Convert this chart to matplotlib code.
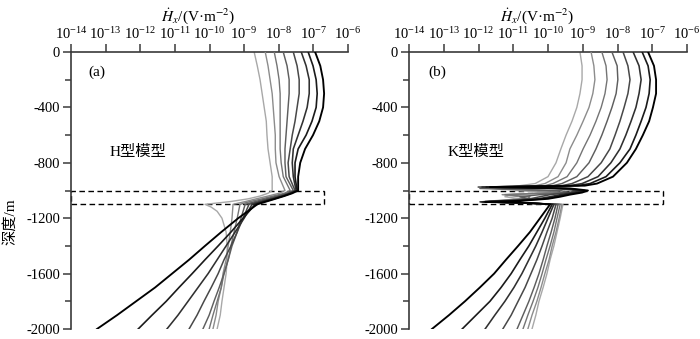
import numpy as np
import matplotlib
matplotlib.use("Agg")
import matplotlib.pyplot as plt
from matplotlib.patches import Rectangle
from matplotlib.ticker import FixedLocator, NullLocator, LogFormatterMathtext, FuncFormatter

plt.rcParams['font.family'] = ['Liberation Serif', 'Noto Sans CJK SC']
plt.rcParams['mathtext.fontset'] = 'stix'

# ---------------- data (log10 of dHx/dt, V/m^2) ----------------
# H-type model (panel a)
h_upper_depth = [0, -100, -200, -300, -400, -500, -600, -700, -800, -900, -1000]
h_layer_depth = [-1020, -1040, -1060, -1080]
h_lower_depth = [-1100, -1200, -1300, -1400, -1500, -1600, -1700, -1800, -1900, -2000]
h_c1_lower_depth = [-1100, -1120, -1150, -1200, -1300, -1400, -1500, -1600, -1700, -1800, -1900, -2000]

h_upper = [
    [-8.71, -8.62, -8.54, -8.48, -8.42, -8.36, -8.34, -8.31, -8.25, -8.19, -8.19],
    [-8.39, -8.31, -8.25, -8.19, -8.16, -8.13, -8.10, -8.10, -8.08, -7.99, -7.82],
    [-8.13, -8.05, -7.99, -7.96, -7.96, -7.96, -7.96, -7.96, -7.93, -7.87, -7.67],
    [-7.87, -7.76, -7.70, -7.70, -7.73, -7.76, -7.79, -7.82, -7.82, -7.79, -7.58],
    [-7.58, -7.47, -7.41, -7.41, -7.47, -7.53, -7.61, -7.67, -7.73, -7.70, -7.53],
    [-7.35, -7.21, -7.12, -7.12, -7.18, -7.30, -7.44, -7.58, -7.61, -7.58, -7.50],
    [-7.15, -7.01, -6.92, -6.89, -6.92, -7.04, -7.21, -7.44, -7.53, -7.53, -7.47],
    [-6.95, -6.80, -6.72, -6.69, -6.72, -6.83, -7.01, -7.24, -7.38, -7.44, -7.44],
]
h_layer = [
    [-8.31, -8.54, -8.88, -9.40],
    [-7.99, -8.31, -8.65, -8.97],
    [-7.84, -8.16, -8.48, -8.83],
    [-7.76, -8.05, -8.36, -8.68],
    [-7.70, -7.96, -8.25, -8.57],
    [-7.67, -7.90, -8.19, -8.48],
    [-7.64, -7.87, -8.13, -8.42],
    [-7.61, -7.84, -8.10, -8.36],
]
h_lower = [
    [-10.13, -9.95, -9.78, -9.64, -9.52, -9.49, -9.49, -9.52, -9.58, -9.64, -9.69, -9.78],
    [-9.32, -9.35, -9.40, -9.46, -9.52, -9.61, -9.66, -9.75, -9.81, -9.90],
    [-9.12, -9.20, -9.29, -9.38, -9.46, -9.58, -9.66, -9.78, -9.90, -10.01],
    [-8.97, -9.09, -9.20, -9.35, -9.46, -9.58, -9.72, -9.87, -10.01, -10.19],
    [-8.86, -9.03, -9.20, -9.38, -9.58, -9.75, -9.95, -10.16, -10.36, -10.59],
    [-8.77, -9.00, -9.26, -9.52, -9.78, -10.04, -10.33, -10.62, -10.91, -11.23],
    [-8.68, -9.03, -9.38, -9.75, -10.13, -10.50, -10.88, -11.25, -11.66, -12.06],
    [-8.62, -9.17, -9.66, -10.13, -10.59, -11.08, -11.57, -12.12, -12.67, -13.25],
]

# K-type model (panel b)
k_upper_depth = [0, -100, -200, -300, -400, -500, -600, -700, -800, -900, -950]
k_layer_depth = [-965, -975, -985, -1000, -1015, -1030, -1045, -1060, -1075, -1082, -1090]
k_lower_depth = [-1100, -1200, -1300, -1400, -1500, -1600, -1700, -1800, -1900, -2000]

k_upper = [
    [-9.08, -9.02, -9.02, -9.08, -9.17, -9.31, -9.48, -9.63, -9.77, -10.00, -10.37],
    [-8.76, -8.68, -8.65, -8.71, -8.82, -8.99, -9.17, -9.37, -9.48, -9.71, -10.09],
    [-8.45, -8.33, -8.30, -8.36, -8.47, -8.62, -8.79, -8.99, -9.17, -9.45, -9.86],
    [-8.16, -8.01, -7.99, -8.04, -8.16, -8.30, -8.45, -8.62, -8.82, -9.17, -9.60],
    [-7.84, -7.70, -7.64, -7.70, -7.81, -7.93, -8.07, -8.22, -8.47, -8.85, -9.31],
    [-7.55, -7.38, -7.32, -7.38, -7.47, -7.61, -7.76, -7.93, -8.19, -8.56, -9.02],
    [-7.29, -7.12, -7.06, -7.09, -7.18, -7.32, -7.47, -7.64, -7.93, -8.33, -8.79],
    [-7.12, -6.95, -6.89, -6.89, -6.98, -7.09, -7.27, -7.47, -7.73, -8.13, -8.59],
]
k_layer = [
    [-10.81, -11.09, -11.53, -10.95, -9.94, -11.09, -11.24, -10.81, -11.61, -11.73, -10.92],
    [-10.37, -10.81, -11.38, -10.52, -9.65, -11.32, -10.81, -10.66, -11.53, -11.78, -10.86],
    [-10.09, -10.66, -11.67, -10.09, -9.51, -11.24, -10.52, -10.58, -11.44, -11.84, -10.81],
    [-9.86, -10.81, -11.96, -9.65, -9.37, -10.23, -10.81, -10.52, -11.38, -11.90, -10.75],
    [-9.60, -12.01, -9.80, -9.14, -9.42, -9.94, -10.23, -10.52, -11.24, -11.96, -10.69],
    [-9.37, -11.90, -9.65, -9.02, -9.28, -9.65, -9.94, -10.29, -11.09, -11.93, -10.63],
    [-9.14, -11.78, -9.51, -8.94, -9.14, -9.51, -9.80, -10.14, -10.95, -11.87, -10.58],
    [-8.94, -11.67, -9.37, -8.85, -9.02, -9.37, -9.65, -10.00, -10.81, -11.81, -10.52],
]
k_lower = [
    [-9.57, -9.65, -9.74, -9.83, -9.94, -10.03, -10.14, -10.26, -10.35, -10.46],
    [-9.60, -9.68, -9.77, -9.88, -9.97, -10.09, -10.20, -10.32, -10.46, -10.58],
    [-9.65, -9.74, -9.83, -9.94, -10.06, -10.17, -10.29, -10.43, -10.58, -10.72],
    [-9.71, -9.80, -9.91, -10.03, -10.14, -10.26, -10.40, -10.55, -10.72, -10.89],
    [-9.77, -9.88, -10.03, -10.17, -10.32, -10.49, -10.66, -10.86, -11.06, -11.30],
    [-9.83, -10.00, -10.17, -10.35, -10.55, -10.75, -10.98, -11.24, -11.53, -11.81],
    [-9.88, -10.09, -10.32, -10.55, -10.81, -11.06, -11.35, -11.67, -12.07, -12.47],
    [-9.94, -10.23, -10.52, -10.86, -11.21, -11.55, -11.96, -12.39, -12.85, -13.34],
]

x_ticks = [1e-14, 1e-13, 1e-12, 1e-11, 1e-10, 1e-9, 1e-8, 1e-7, 1e-6]
y_major = [0, -400, -800, -1200, -1600, -2000]
y_minor = [-200, -600, -1000, -1400, -1800]
layer_top, layer_bottom = -1000, -1100
box_right = 2e-7

colors = ['#a8a8a8', '#8c8c8c', '#747474', '#5e5e5e', '#484848', '#303030', '#1a1a1a', '#000000']
widths = [1.0, 1.0, 1.0, 1.05, 1.1, 1.15, 1.2, 1.35]

fig = plt.figure(figsize=(7.0, 3.39), dpi=100)
ax1 = fig.add_axes([71/700, 10/339, 277/700, 277/339])
ax2 = fig.add_axes([409/700, 10/339, 278/700, 277/339])

axis_col = '#3a3a3a'


def style(ax):
    ax.set_xscale('log')
    ax.set_xlim(1e-14, 1e-6)
    ax.set_ylim(-2000, 0)
    ax.xaxis.tick_top()
    ax.xaxis.set_major_locator(FixedLocator(x_ticks))
    ax.xaxis.set_major_formatter(LogFormatterMathtext())
    ax.xaxis.set_minor_locator(NullLocator())
    ax.yaxis.set_major_locator(FixedLocator(y_major))
    ax.yaxis.set_minor_locator(FixedLocator(y_minor))
    ax.yaxis.set_major_formatter(FuncFormatter(lambda v, p: f"{int(v)}"))
    for s in ['bottom', 'right']:
        ax.spines[s].set_visible(False)
    for s in ['top', 'left']:
        ax.spines[s].set_color(axis_col)
        ax.spines[s].set_linewidth(1.2)
    ax.tick_params(axis='x', which='major', direction='out', length=6, width=1.1,
                   color=axis_col, labelsize=10.5, pad=1)
    ax.tick_params(axis='y', which='major', direction='out', length=6, width=1.1,
                   color=axis_col, labelsize=10.5, pad=2)
    ax.tick_params(axis='y', which='minor', direction='out', length=4, width=1.1,
                   color=axis_col)
    ax.add_patch(Rectangle((1e-14, layer_bottom), box_right - 1e-14, layer_top - layer_bottom,
                           fill=False, ls=(0, (4, 2.5)), lw=1.0, ec='black', clip_on=False, zorder=1))


def draw_h(ax):
    for i in range(8):
        if i == 0:
            d = h_upper_depth + h_layer_depth + h_c1_lower_depth
        else:
            d = h_upper_depth + h_layer_depth + h_lower_depth
        v = h_upper[i] + h_layer[i] + h_lower[i]
        ax.plot(10.0 ** np.array(v), d, color=colors[i], lw=widths[i], zorder=2 + i)


def draw_k(ax):
    for i in range(8):
        d = k_upper_depth + k_layer_depth + k_lower_depth
        v = k_upper[i] + k_layer[i] + k_lower[i]
        ax.plot(10.0 ** np.array(v), d, color=colors[i], lw=widths[i], zorder=2 + i)


style(ax1)
style(ax2)
draw_h(ax1)
draw_k(ax2)

ax1.text(0.061, 0.928, '(a)', transform=ax1.transAxes, fontsize=11, va='center', ha='left')
ax2.text(0.068, 0.928, '(b)', transform=ax2.transAxes, fontsize=11, va='center', ha='left')
ax1.text(0.14, 0.639, 'H型模型', transform=ax1.transAxes, fontsize=11, va='center', ha='left')
ax2.text(0.14, 0.639, 'K型模型', transform=ax2.transAxes, fontsize=11, va='center', ha='left')

title = r'$\dot{H}_x$/(V·m$^{-2}$)'
fig.text(198/700, 1 - 16/339, title, ha='center', va='center', fontsize=11)
fig.text(537/700, 1 - 16/339, title, ha='center', va='center', fontsize=11)
fig.text(10/700, 1 - 222/339, '深度/m', rotation=90, ha='center', va='center', fontsize=11)

fig.savefig('out.png', dpi=100)
